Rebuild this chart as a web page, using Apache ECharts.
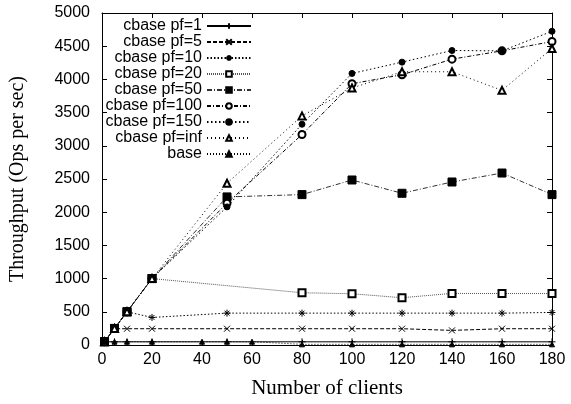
<!DOCTYPE html>
<html>
<head>
<meta charset="utf-8">
<script src="https://cdn.jsdelivr.net/npm/echarts@6/dist/echarts.min.js"></script>
<style>
  html, body { margin: 0; padding: 0; background: #fff; }
  #chart { width: 571px; height: 404px; }
</style>
</head>
<body>
<div id="chart"></div>
<script>
// Number of concurrent clients for each measured run
const clients = [1, 5, 10, 20, 50, 80, 100, 120, 140, 160, 180];
const clientsPf20 = [1, 5, 10, 20, 80, 100, 120, 140, 160, 180];
const clientsBase = [1, 5, 10, 20, 40, 50, 60, 80, 100, 120, 140, 160, 180];

// Throughput (ops per second) for each configuration
const pf1   = [48, 48, 48, 48, 48, 48, 48, 48, 48, 48, 48];
const pf5   = [50, 245, 245, 245, 245, 245, 245, 245, 220, 245, 245];
const pf10  = [50, 250, 500, 415, 480, 480, 480, 480, 480, 480, 490];
const pf20  = [50, 250, 500, 1000, 787, 772, 712, 777, 775, 775];
const pf50  = [50, 250, 500, 1000, 2230, 2265, 2485, 2285, 2455, 2590, 2265];
const pf100 = [50, 250, 500, 1000, 2135, 3170, 3935, 4070, 4305, 4430, 4570];
const pf150 = [50, 250, 500, 1000, 2080, 3325, 4090, 4260, 4435, 4430, 4725];
const pfInf = [50, 250, 500, 1000, 2435, 3450, 3870, 4115, 4115, 3835, 4465];
const base  = [50, 50, 50, 50, 50, 50, 50, 10, 10, 10, 10, 10, 10];

const xTicks = { min: 0, max: 180, interval: 20 };
const yTicks = { min: 0, max: 5000, interval: 500 };

const pairs = (xs, ys) => xs.map((x, i) => [x, ys[i]]);

const PLUS  = 'path://M0,5L10,5M5,0L5,10';
const CROSS = 'path://M0,0L10,10M10,0L0,10';
const STAR  = 'path://M0,5L10,5M5,0L5,10M1.5,1.5L8.5,8.5M8.5,1.5L1.5,8.5';

function line(name, xs, ys, dash, symbol, size, lineColor) {
  return {
    name: name,
    type: 'line',
    data: pairs(xs, ys),
    symbol: symbol,
    symbolSize: size,
    showAllSymbol: true,
    color: '#000',
    lineStyle: { color: lineColor || '#000', width: 1, type: dash },
    itemStyle: { color: '#000', borderColor: '#000', borderWidth: 1 },
    emphasis: { disabled: true },
    z: 3
  };
}

const series = [
  line('cbase pf=1',   clients,     pf1,   'solid',          PLUS, 7),
  line('cbase pf=5',   clients,     pf5,   [4, 2],           CROSS, 6),
  line('cbase pf=10',  clients,     pf10,  [1.5, 2],         STAR, 7),
  line('cbase pf=20',  clientsPf20, pf20,  [1, 1],           'emptyRect', 7, '#555'),
  line('cbase pf=50',  clients,     pf50,  [5, 2, 1, 2],     'rect', 8, '#333'),
  line('cbase pf=100', clients,     pf100, [4, 2, 1, 2],     'emptyCircle', 7),
  line('cbase pf=150', clients,     pf150, [1.5, 2.5],       'circle', 6),
  line('cbase pf=inf', clients,     pfInf, [1, 3],           'emptyTriangle', 7),
  line('base',         clientsBase, base,  [1, 2],           'triangle', 5)
];

const axisLine = { show: true, onZero: false, lineStyle: { color: '#000', width: 1 } };
const tick = { show: true, inside: true, length: 5, lineStyle: { color: '#000', width: 1 } };
const sans = 'Liberation Sans, Arial, sans-serif';
const serif = 'Liberation Serif, Times New Roman, serif';
const plain = v => String(v);

const chart = echarts.init(document.getElementById('chart'));
chart.setOption({
  animation: false,
  backgroundColor: '#fff',
  grid: { left: 95, right: 19, top: 13, bottom: 55 },
  legend: {
    orient: 'vertical',
    align: 'right',
    right: 319,
    top: 18,
    padding: 0,
    itemWidth: 44,
    itemHeight: 7,
    itemGap: 0,
    selectedMode: false,
    textStyle: { fontFamily: sans, fontSize: 16, lineHeight: 16, color: '#000' },
    data: series.map(s => s.name)
  },
  xAxis: [
    Object.assign({
      type: 'value',
      position: 'bottom',
      name: 'Number of clients',
      nameLocation: 'middle',
      nameGap: 33,
      nameTextStyle: { fontFamily: serif, fontSize: 21, color: '#000' },
      axisLine: axisLine,
      axisTick: tick,
      axisLabel: { fontFamily: sans, fontSize: 16, color: '#000', margin: 7, formatter: plain },
      splitLine: { show: false }
    }, xTicks),
    Object.assign({
      type: 'value',
      position: 'top',
      axisLine: axisLine,
      axisTick: tick,
      axisLabel: { show: false },
      splitLine: { show: false }
    }, xTicks)
  ],
  yAxis: [
    Object.assign({
      type: 'value',
      position: 'left',
      name: 'Throughput (Ops per sec)',
      nameLocation: 'middle',
      nameGap: 74,
      nameTextStyle: { fontFamily: serif, fontSize: 20, color: '#000' },
      axisLine: axisLine,
      axisTick: tick,
      axisLabel: { fontFamily: sans, fontSize: 16, color: '#000', margin: 12, formatter: plain },
      splitLine: { show: false }
    }, yTicks),
    Object.assign({
      type: 'value',
      position: 'right',
      axisLine: axisLine,
      axisTick: tick,
      axisLabel: { show: false },
      splitLine: { show: false }
    }, yTicks)
  ],
  series: series
});
</script>
</body>
</html>
